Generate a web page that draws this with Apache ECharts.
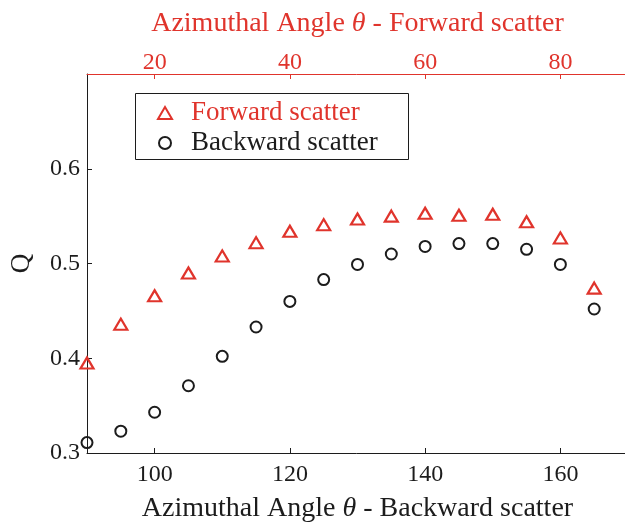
<!DOCTYPE html>
<html>
<head>
<meta charset="utf-8">
<script src="https://cdn.jsdelivr.net/npm/echarts@6/dist/echarts.min.js"></script>
<style>html,body{margin:0;padding:0;background:#fff;}#c{width:625px;height:522px;}</style>
</head>
<body>
<div id="c"></div>
<script>
// Backward scatter: bottom axis angle (deg)
var backwardAngles = [90, 95, 100, 105, 110, 115, 120, 125, 130, 135, 140, 145, 150, 155, 160, 165];
var backwardQ = [0.311, 0.323, 0.343, 0.371, 0.402, 0.433, 0.460, 0.483, 0.499, 0.510, 0.518, 0.521, 0.521, 0.515, 0.499, 0.452];
// Forward scatter: top axis angle (deg)
var forwardAngles = [10, 15, 20, 25, 30, 35, 40, 45, 50, 55, 60, 65, 70, 75, 80, 85];
var forwardQ = [0.395, 0.436, 0.466, 0.490, 0.508, 0.522, 0.534, 0.541, 0.547, 0.550, 0.553, 0.551, 0.552, 0.544, 0.527, 0.474];
// Tick labels
var bottomTicks = [100, 120, 140, 160];
var topTicks = [20, 40, 60, 80];
var yTicks = [0.3, 0.4, 0.5, 0.6];

var RED = '#e0342c';
var INK = '#1c1c1c';
var FONT = '"Liberation Serif", "Times New Roman", serif';

function pairs(xs, ys) { return xs.map(function (x, i) { return [x, ys[i]]; }); }

var chart = echarts.init(document.getElementById('c'), null, { renderer: 'canvas' });
chart.setOption({
  animation: false,
  backgroundColor: '#fff',
  textStyle: { fontFamily: FONT },
  grid: { left: 87, right: -3, top: 74, bottom: 69, containLabel: false, outerBoundsMode: 'none' },
  xAxis: [
    {
      type: 'value', position: 'bottom', min: 90, max: 170,
      name: '{n|Azimuthal Angle }{i|θ}{n| - Backward scatter}',
      nameLocation: 'middle', nameGap: 42,
      nameTextStyle: { rich: {
        n: { fontFamily: FONT, fontSize: 28, color: INK },
        i: { fontFamily: FONT, fontSize: 28, color: INK, fontStyle: 'italic' }
      } },
      axisLine: { show: true, lineStyle: { color: INK, width: 1 } },
      axisTick: { show: true, inside: true, length: 5, customValues: bottomTicks, lineStyle: { color: INK } },
      axisLabel: { customValues: bottomTicks, fontFamily: FONT, fontSize: 24, color: INK, margin: 10 },
      splitLine: { show: false }
    },
    {
      type: 'value', position: 'top', min: 10, max: 90,
      name: '{n|Azimuthal Angle }{i|θ}{n| - Forward scatter}',
      nameLocation: 'middle', nameGap: 36,
      nameTextStyle: { rich: {
        n: { fontFamily: FONT, fontSize: 28, color: RED },
        i: { fontFamily: FONT, fontSize: 28, color: RED, fontStyle: 'italic' }
      } },
      axisLine: { show: true, lineStyle: { color: RED, width: 1 } },
      axisTick: { show: true, inside: true, length: 5, customValues: topTicks, lineStyle: { color: RED } },
      axisLabel: { customValues: topTicks, fontFamily: FONT, fontSize: 24, color: RED, margin: -1 },
      splitLine: { show: false }
    }
  ],
  yAxis: {
    type: 'value', min: 0.3, max: 0.7,
    name: 'Q', nameLocation: 'middle', nameGap: 52, nameRotate: 90,
    nameTextStyle: { fontFamily: FONT, fontSize: 27, color: INK },
    axisLine: { show: true, lineStyle: { color: INK, width: 1 } },
    axisTick: { show: true, inside: true, length: 5, customValues: yTicks, lineStyle: { color: INK } },
    axisLabel: { customValues: yTicks, fontFamily: FONT, fontSize: 24, color: INK, margin: 7,
      formatter: function (v) { return v.toFixed(1); } },
    splitLine: { show: false }
  },
  legend: {
    orient: 'vertical', left: 157, top: 98, padding: 0, itemGap: 0,
    itemWidth: 14, itemHeight: 12,
    textStyle: { fontFamily: FONT, fontSize: 27, lineHeight: 30, padding: [0, 0, 0, 14] },
    data: [
      { name: 'Forward scatter', textStyle: { color: RED } },
      { name: 'Backward scatter', textStyle: { color: INK } }
    ]
  },
  graphic: [
    { type: 'rect', shape: { x: 135.5, y: 93.5, width: 273, height: 66 },
      style: { fill: 'none', stroke: INK, lineWidth: 1 }, z: 10, silent: true }
  ],
  series: [
    {
      name: 'Forward scatter', type: 'scatter', xAxisIndex: 1, yAxisIndex: 0,
      data: pairs(forwardAngles, forwardQ),
      symbol: 'triangle', symbolSize: [13, 11],
      itemStyle: { color: 'rgba(0,0,0,0)', borderColor: RED, borderWidth: 2.2, opacity: 1 },
      emphasis: { disabled: true }
    },
    {
      name: 'Backward scatter', type: 'scatter', xAxisIndex: 0, yAxisIndex: 0,
      data: pairs(backwardAngles, backwardQ),
      symbol: 'circle', symbolSize: 11,
      itemStyle: { color: 'rgba(0,0,0,0)', borderColor: INK, borderWidth: 2, opacity: 1 },
      emphasis: { disabled: true }
    }
  ]
});
</script>
</body>
</html>
